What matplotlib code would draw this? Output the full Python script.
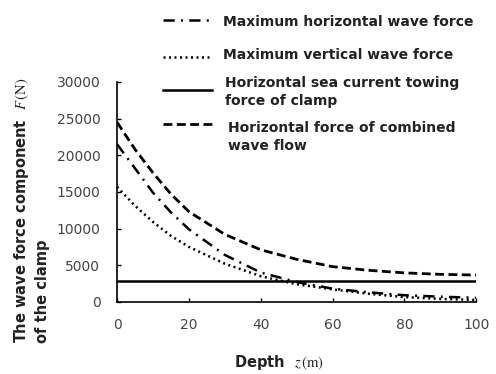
import numpy as np
import matplotlib
matplotlib.use('Agg')
import matplotlib.pyplot as plt
from matplotlib.lines import Line2D

plt.rcParams['mathtext.fontset'] = 'stix'

# depth (m)
depth = [0, 5, 10, 15, 20, 30, 40, 50, 60, 70, 80, 90, 100]
# forces (N)
horiz_wave = [21500, 18200, 14900, 12200, 9900, 6400, 4000, 2700, 1800, 1300, 900, 700, 550]
vert_wave = [15700, 13100, 10900, 9000, 7500, 5200, 3500, 2400, 1700, 1100, 650, 400, 250]
current_tow = [2900] * len(depth)
combined = [24500, 20800, 17600, 14700, 12300, 9200, 7100, 5800, 4800, 4300, 3950, 3750, 3650]

labels = ['Maximum horizontal wave force',
          'Maximum vertical wave force',
          'Horizontal sea current towing\nforce of clamp',
          'Horizontal force of combined\nwave flow']

styles = [dict(lw=1.8, linestyle=(0, (4.5, 2.5, 0.8, 2.5))),
          dict(lw=1.8, linestyle=(0, (0.8, 1.4))),
          dict(lw=1.8, linestyle='-'),
          dict(lw=2.0, linestyle=(0, (3.2, 1.6)))]

fig = plt.figure(figsize=(4.96, 3.74), dpi=100)
ax = fig.add_axes([0.236, 0.193, 0.724, 0.588])

series = [horiz_wave, vert_wave, current_tow, combined]
for vals, lab, st in zip(series, labels, styles):
    ax.plot(depth, vals, color='black', label=lab, **st)

ax.set_xlim(0, 100)
ax.set_ylim(0, 30000)
ax.set_xticks(np.arange(0, 101, 20))
ax.set_yticks(np.arange(0, 30001, 5000))
ax.spines['top'].set_visible(False)
ax.spines['right'].set_visible(False)
for s in ['left', 'bottom']:
    ax.spines[s].set_linewidth(1.2)
ax.tick_params(direction='in', length=3, width=1, labelsize=10,
               labelcolor='#444444', pad=12)

# legend, laid out by hand above the plot
W, H = 496, 374
handle_y = [20, 57, 90, 124]
text_y = [22, 55, 92, 137]
text_x = [223, 223, 225, 228]
for i, st in enumerate(styles):
    fig.add_artist(Line2D([163 / W, 212 / W], [1 - handle_y[i] / H] * 2,
                          transform=fig.transFigure, color='black', **st))
    fig.text(text_x[i] / W, 1 - text_y[i] / H, labels[i], ha='left', va='center',
             fontsize=10, fontweight='bold', color='#222222', linespacing=1.4)

fig.text(279 / W, 1 - 363 / H, r'Depth  $z\,(\mathrm{m})$', ha='center', va='center',
         fontsize=10.5, fontweight='bold', color='#222222')
fig.text(31 / W, 1 - 343 / H,
         'The wave force component  $F\\,(\\mathrm{N})$\nof the clamp',
         rotation=90, ha='center', va='bottom', multialignment='left',
         fontsize=10.5, fontweight='bold', color='#222222', linespacing=1.3)

fig.savefig('out.png', dpi=100)
